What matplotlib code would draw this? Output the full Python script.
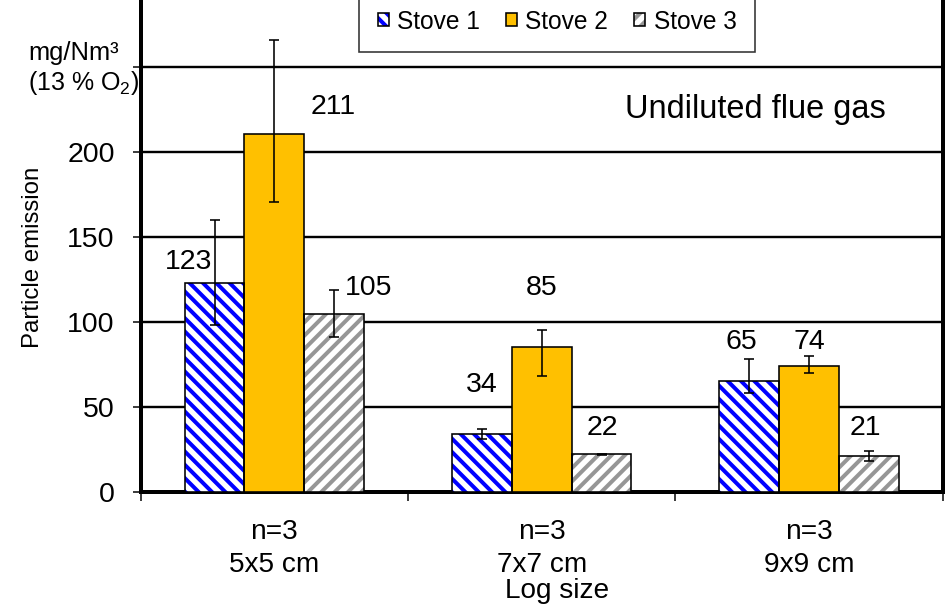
import matplotlib
matplotlib.use("Agg")
import matplotlib.pyplot as plt
from matplotlib.legend_handler import HandlerTuple
import numpy as np

DPI = 80
W, H = 946, 610


def pt(pixels):
    """Convert a size in pixels to points at the output resolution."""
    return pixels * 72.0 / DPI


plt.rcParams["font.family"] = ["Liberation Sans", "DejaVu Sans"]
plt.rcParams["mathtext.fontset"] = "custom"
plt.rcParams["mathtext.rm"] = "Liberation Sans"
plt.rcParams["mathtext.it"] = "Liberation Sans:italic"
plt.rcParams["hatch.linewidth"] = pt(4.0)

# ---- data -------------------------------------------------------------
log_sizes = ["5x5 cm", "7x7 cm", "9x9 cm"]
n_runs = [3, 3, 3]
stoves = ["Stove 1", "Stove 2", "Stove 3"]

stove1 = [123, 34, 65]
stove2 = [211, 85, 74]
stove3 = [105, 22, 21]

stove1_low = [98, 31, 58]
stove1_high = [160, 37, 78]
stove2_low = [171, 68, 70]
stove2_high = [266, 95, 80]
stove3_low = [91, 21.5, 18]
stove3_high = [119, 22.5, 24]

y_ticks = [0, 50, 100, 150, 200, 250]

# ---- styling ----------------------------------------------------------
bar_w = 0.224
fills = [
    dict(color="white", edgecolor="#0000FF", hatch="\\\\"),
    dict(color="#FFC000", edgecolor="#FFC000", hatch=None),
    dict(color="white", edgecolor="#969696", hatch="//"),
]
# value label placement: (x shift in category units, y shift in data units)
label_offsets = [
    [(-0.099, 12.3), (0.0, 28.9), (-0.029, 23.2)],
    [(0.219, 15.7), (0.0, 35.0), (0.0, 14.2)],
    [(0.129, 15.0), (0.004, 15.5), (-0.013, 16.5)],
]

fig = plt.figure(figsize=(W / DPI, H / DPI), dpi=DPI)
left_px, right_px, bottom_px = 140.8, 942.5, 491.7
ax = fig.add_axes([left_px / W, 1 - bottom_px / H,
                   (right_px - left_px) / W, bottom_px / H])

values = [stove1, stove2, stove3]
lows = [stove1_low, stove2_low, stove3_low]
highs = [stove1_high, stove2_high, stove3_high]
idx = np.arange(len(log_sizes))

handles = []
for i, (vals, lo, hi, style) in enumerate(zip(values, lows, highs, fills)):
    vals = np.asarray(vals, float)
    x = idx + (i - 1) * bar_w
    fill = ax.bar(x, vals, bar_w, color=style["color"], edgecolor=style["edgecolor"],
                  hatch=style["hatch"], linewidth=0, zorder=3)
    edge = ax.bar(x, vals, bar_w, fill=False, edgecolor="black",
                  linewidth=pt(1.6), zorder=4)
    ax.errorbar(x, vals, yerr=[vals - np.asarray(lo), np.asarray(hi) - vals],
                fmt="none", ecolor="black", elinewidth=pt(1.6),
                capsize=pt(5), capthick=pt(1.6), zorder=5)
    for xi, v, (dx, dy) in zip(x, vals, label_offsets[i]):
        ax.text(xi + dx, v + dy, f"{v:g}", ha="center", va="center",
                fontsize=pt(28.5), zorder=6)
    handles.append((fill, edge))

# ---- axes -------------------------------------------------------------
ax.set_xlim(-0.5, len(log_sizes) - 0.5)
ax.set_ylim(0, bottom_px / 1.697)

ax.set_yticks(y_ticks)
ax.set_yticklabels([str(t) if t < 250 else "" for t in y_ticks])
ax.yaxis.grid(True, color="black", linewidth=pt(2.4))
ax.set_axisbelow(True)
ax.tick_params(axis="y", direction="out", length=pt(8), width=pt(1.5),
               pad=pt(18), labelsize=pt(28.5))

ax.set_xticks(idx)
ax.set_xticklabels([f"n={n}\n{s}" for n, s in zip(n_runs, log_sizes)],
                   linespacing=1.36)
ax.set_xticks(np.arange(len(log_sizes) + 1) - 0.5, minor=True)
ax.tick_params(axis="x", which="major", length=0, pad=pt(27), labelsize=pt(28))
ax.tick_params(axis="x", which="minor", direction="out", length=pt(9),
               width=pt(1.5))

for side in ("left", "right", "bottom"):
    ax.spines[side].set_linewidth(pt(4))
ax.spines["top"].set_visible(False)

fig.text(557 / W, 1 - 598 / H, "Log size", ha="center", va="baseline",
         fontsize=pt(28))
fig.text(33 / W, 1 - 257 / H, "Particle emission", rotation=90,
         ha="center", va="center", fontsize=pt(24))
fig.text(28 / W, 1 - 60 / H, "mg/Nm\u00b3", ha="left", va="baseline",
         fontsize=pt(25.5))
fig.text(28 / W, 1 - 90 / H, "(13 % O$_2$)", ha="left", va="baseline",
         fontsize=pt(25))
fig.text(755 / W, 1 - 118 / H, "Undiluted flue gas", ha="center",
         va="baseline", fontsize=pt(32.5))

leg = fig.legend(handles, stoves, loc="lower center",
                 bbox_to_anchor=(557 / W, 1 - 52 / H), bbox_transform=fig.transFigure,
                 ncol=3, fontsize=pt(24.5), frameon=True, fancybox=False,
                 borderaxespad=0, borderpad=0.75, handlelength=0.45,
                 handleheight=0.45, handletextpad=0.35, columnspacing=1.05,
                 handler_map={tuple: HandlerTuple(ndivide=1)})
leg.get_frame().set_edgecolor("black")
leg.get_frame().set_linewidth(pt(1.6))

fig.savefig("out.png", dpi=DPI)
